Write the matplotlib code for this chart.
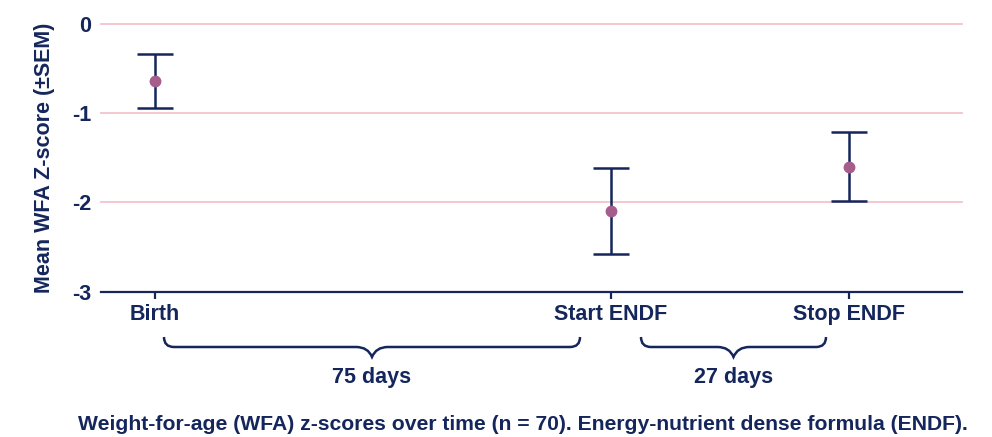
import matplotlib.pyplot as plt
from matplotlib.path import Path
from matplotlib.patches import PathPatch
from matplotlib.transforms import blended_transform_factory

# data
timepoints = ['Birth', 'Start ENDF', 'Stop ENDF']
mean_wfa = [-0.64, -2.10, -1.60]
sem_wfa = [0.30, 0.48, 0.39]
intervals = ['75 days', '27 days']

NAVY = '#14265c'
DOT = '#a65d8c'
GRID = '#f3c3cc'

plt.rcParams['font.family'] = ['Liberation Sans', 'DejaVu Sans']
plt.rcParams['font.weight'] = 'bold'
FS = 15.5

W, H = 992, 437
fig = plt.figure(figsize=(W / 100, H / 100), dpi=100)
ax = fig.add_axes([101 / W, 1 - 291.5 / H, (962 - 101) / W, (291.5 - 24) / H])

# x layout (pixel-like units across the axes)
xpos = [155, 611, 849]
ax.set_xlim(101, 962)
ax.set_ylim(-3, 0)

for y in [0, -1, -2]:
    ax.axhline(y, color=GRID, lw=1.3, zorder=0, clip_on=False)

ax.errorbar(xpos, mean_wfa, yerr=sem_wfa, fmt='none', ecolor=NAVY,
            elinewidth=1.8, capsize=12.8, capthick=1.8, zorder=2)
ax.plot(xpos, mean_wfa, 'o', color=DOT, ms=7.5, zorder=3)

for s in ['top', 'right', 'left']:
    ax.spines[s].set_visible(False)
ax.spines['bottom'].set_color(NAVY)
ax.spines['bottom'].set_linewidth(1.6)

ax.set_xticks(xpos)
ax.set_xticklabels(timepoints)
ax.set_yticks([0, -1, -2, -3])
ax.set_yticklabels(['0', '-1', '-2', '-3'])
ax.tick_params(axis='x', colors=NAVY, length=5, width=1.6, pad=4, labelsize=FS)
ax.tick_params(axis='y', colors=NAVY, length=0, pad=7, labelsize=FS)
ax.set_ylabel('Mean WFA Z-score (\u00b1SEM)', color=NAVY, fontsize=FS,
              fontweight='bold', labelpad=12)


def brace(x0, x1, label):
    tr = blended_transform_factory(ax.transData, fig.transFigure)
    fy = lambda py: 1 - py / H
    ytop, ymid, ytip = fy(337), fy(347), fy(357)
    r = 10
    ry = 10 / H
    xc = (x0 + x1) / 2
    verts = [(x0, ytop), (x0, ymid + ry), (x0, ymid), (x0 + r, ymid),
             (xc - 16, ymid), (xc - 4, ymid), (xc, ytip),
             (xc + 4, ymid), (xc + 16, ymid),
             (x1 - r, ymid), (x1, ymid), (x1, ymid + ry), (x1, ytop)]
    codes = [Path.MOVETO, Path.LINETO, Path.CURVE3, Path.CURVE3,
             Path.LINETO, Path.CURVE3, Path.CURVE3,
             Path.CURVE3, Path.CURVE3,
             Path.LINETO, Path.CURVE3, Path.CURVE3, Path.LINETO]
    ax.add_patch(PathPatch(Path(verts, codes), fill=False, ec=NAVY, lw=1.8,
                           transform=tr, clip_on=False))
    ax.text(xc, fy(378), label, transform=tr, ha='center', va='center',
            color=NAVY, fontsize=FS, fontweight='bold')


brace(164, 580, intervals[0])
brace(641, 826, intervals[1])

fig.text(523 / W, 1 - 424 / H,
         'Weight-for-age (WFA) z-scores over time (n = 70). '
         'Energy-nutrient dense formula (ENDF).',
         ha='center', va='center', color=NAVY, fontsize=15.2, fontweight='bold')

fig.savefig('out.png', dpi=100)
